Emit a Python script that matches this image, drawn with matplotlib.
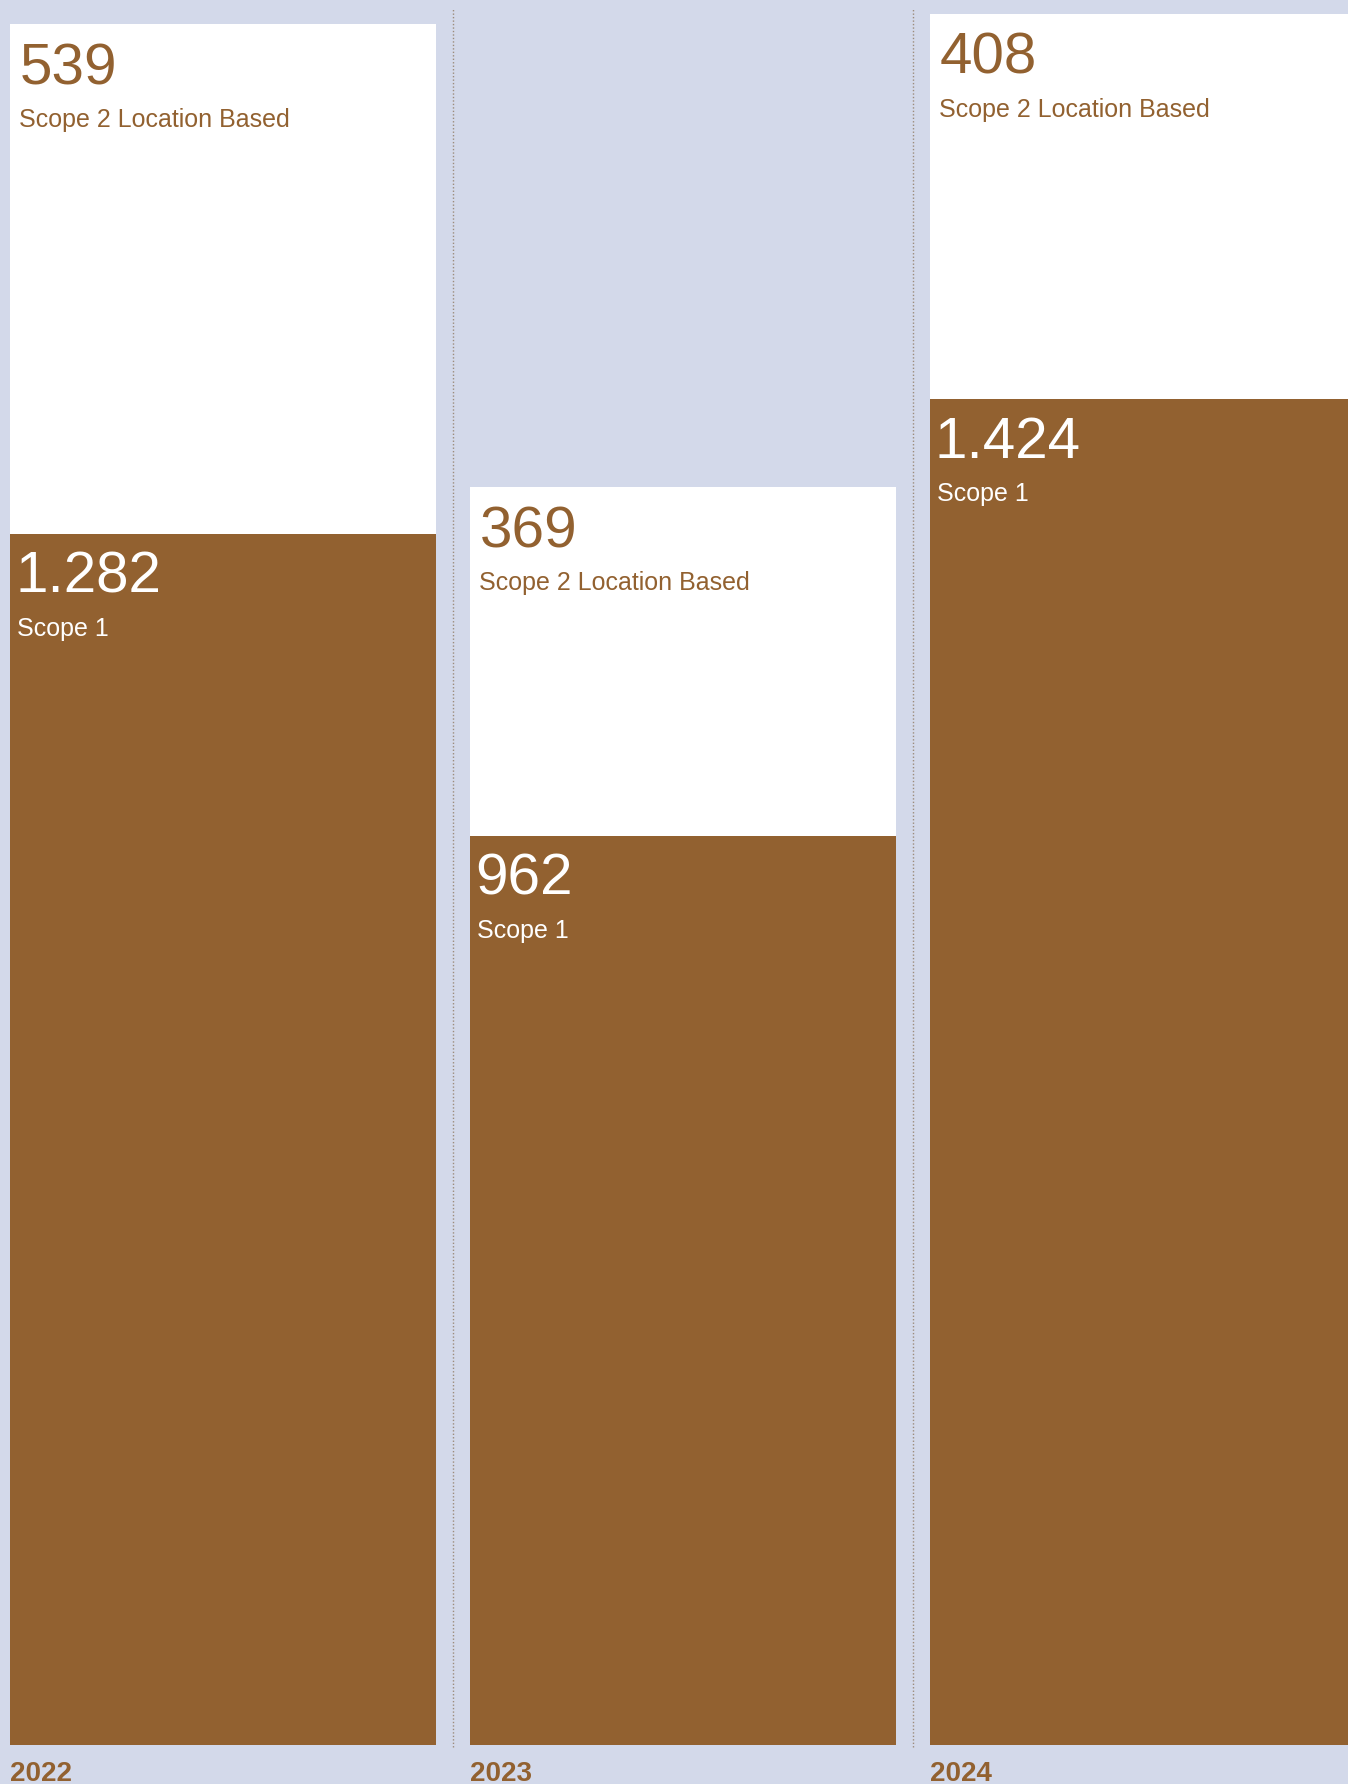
import numpy as np
import matplotlib.pyplot as plt

# Emissions by year (Scope 1 and Scope 2 location based)
years = ['2022', '2023', '2024']
scope1 = [1282, 962, 1424]
scope2_location = [539, 369, 408]
scope1_name = 'Scope 1'
scope2_name = 'Scope 2 Location Based'

bg_color = '#D3D9EA'
brown = '#926130'
divider_color = '#9C8C7C'


def fmt(v):
    # European thousands separator
    return f"{v:,}".replace(',', '.')


fig = plt.figure(figsize=(13.48, 17.84), dpi=100, facecolor=bg_color)
ax = fig.add_axes([0, 0, 1, 1])
ax.set_facecolor(bg_color)

x = np.arange(len(years))
width = 0.926

ax.bar(x, scope1, width=width, color=brown, linewidth=0)
ax.bar(x, scope2_location, width=width, bottom=scope1, color='white', linewidth=0)

# dotted dividers between the columns
totals = np.array(scope1) + np.array(scope2_location)
ax.vlines(x[:-1] + 0.5, -2, totals.max() + 5, colors=divider_color,
          linestyles=(0, (1, 1.5)), linewidth=1.0)

num_font = dict(family='Liberation Sans', fontsize=42)
lab_font = dict(family='Liberation Sans', fontsize=18)

for i in range(len(years)):
    left = x[i] - width / 2
    top = totals[i]
    # Scope 2 block (white)
    ax.annotate(fmt(scope2_location[i]), xy=(left, top), xytext=(10, -18),
                textcoords='offset pixels', va='top', ha='left', color=brown, **num_font)
    ax.annotate(scope2_name, xy=(left, top), xytext=(9, -84),
                textcoords='offset pixels', va='top', ha='left', color=brown, **lab_font)
    # Scope 1 block (brown)
    ax.annotate(fmt(scope1[i]), xy=(left, scope1[i]), xytext=(5, -17),
                textcoords='offset pixels', va='top', ha='left', color='white', **num_font)
    ax.annotate(scope1_name, xy=(left, scope1[i]), xytext=(7, -83),
                textcoords='offset pixels', va='top', ha='left', color='white', **lab_font)
    # year label under the bar
    ax.annotate(years[i], xy=(left, 0), xytext=(0, -16),
                textcoords='offset pixels', va='top', ha='left', color=brown,
                family='Liberation Sans', fontweight='bold', fontsize=20)

ax.set_xlim(-0.485, 2.446)
ax.set_ylim(-41.3, 1846.6)
ax.axis('off')

plt.savefig('out.png', dpi=100, facecolor=bg_color)
